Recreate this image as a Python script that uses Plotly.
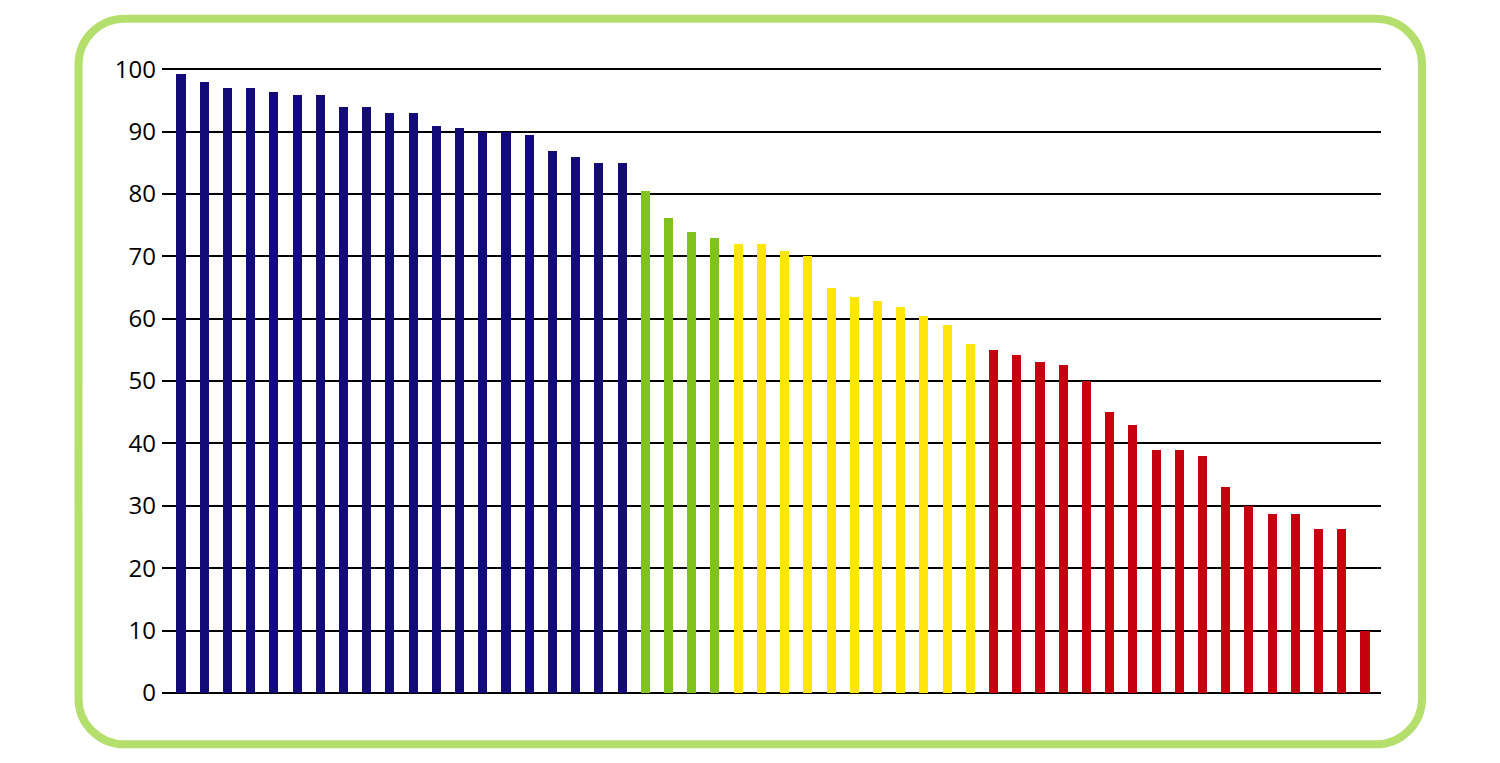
import plotly.graph_objects as go

values = [99.2, 98.0, 96.9, 96.9, 96.4, 95.9, 95.9, 94.0, 94.0, 92.9,
          92.9, 90.9, 90.5, 90.0, 90.0, 89.4, 86.8, 85.9, 84.9, 84.9,
          80.5, 76.1, 73.9, 73.0,
          71.9, 71.9, 70.9, 70.0, 64.9, 63.4, 62.8, 61.9, 60.5, 59.0, 55.9,
          55.0, 54.1, 53.0, 52.6, 50.0, 45.1, 42.9, 39.0, 39.0, 38.0,
          33.0, 30.0, 28.7, 28.7, 26.2, 26.2, 9.9]
groups = ["blue"] * 20 + ["green"] * 4 + ["yellow"] * 11 + ["red"] * 17
categories = list(range(len(values)))
tick_values = [0, 10, 20, 30, 40, 50, 60, 70, 80, 90, 100]

palette = {"blue": "#130b78", "green": "#80c31e", "yellow": "#ffe50a", "red": "#c5000f"}

OFF = 8  # page body margin
W, H = 1484, 747
unit = (693 - 69) / 100.0
pad_units = 0.5
L, R = 162 - OFF, 1381 - OFF
T = 69 - OFF - pad_units * unit
B = 693 - OFF + pad_units * unit

fig = go.Figure(go.Bar(
    x=categories, y=values,
    marker=dict(color=[palette[g] for g in groups], line=dict(width=0)),
    width=0.39,
))

def px(x):
    return (x - OFF - L) / (R - L)

def py(y):
    return (B - (y - OFF)) / (B - T)

x0, x1, y0, y1, r = 78.5, 1422, 18.5, 744.5, 46
k = 0.5523
path = (
    f"M {px(x0 + r)},{py(y0)} L {px(x1 - r)},{py(y0)} "
    f"C {px(x1 - r + r*k)},{py(y0)} {px(x1)},{py(y0 + r - r*k)} {px(x1)},{py(y0 + r)} "
    f"L {px(x1)},{py(y1 - r)} "
    f"C {px(x1)},{py(y1 - r + r*k)} {px(x1 - r + r*k)},{py(y1)} {px(x1 - r)},{py(y1)} "
    f"L {px(x0 + r)},{py(y1)} "
    f"C {px(x0 + r - r*k)},{py(y1)} {px(x0)},{py(y1 - r + r*k)} {px(x0)},{py(y1 - r)} "
    f"L {px(x0)},{py(y0 + r)} "
    f"C {px(x0)},{py(y0 + r - r*k)} {px(x0 + r - r*k)},{py(y0)} {px(x0 + r)},{py(y0)} Z"
)
fig.add_shape(type="path", path=path, xref="paper", yref="paper",
              line=dict(color="#b5df6d", width=8), fillcolor="rgba(0,0,0,0)", layer="below")

spacing = (1365 - 181) / 51
xmin = -(181 - 162) / spacing
xmax = 51 + (1381 - 1365) / spacing

fig.update_layout(
    width=W, height=H,
    margin=dict(l=L, r=W - R, t=T, b=H - B, pad=0),
    paper_bgcolor="white", plot_bgcolor="white",
    showlegend=False,
    bargap=0,
    font=dict(family="Open Sans, Noto Sans, sans-serif", size=24, color="#000000"),
    xaxis=dict(range=[xmin, xmax], showticklabels=False, showgrid=False,
               zeroline=False, showline=False, ticks=""),
    yaxis=dict(range=[-pad_units, 100 + pad_units], tickvals=tick_values, showgrid=True,
               gridcolor="#000000", gridwidth=2, zeroline=False, showline=False,
               ticks="", ticklabelstandoff=5),
)

fig.write_html("out.html")
